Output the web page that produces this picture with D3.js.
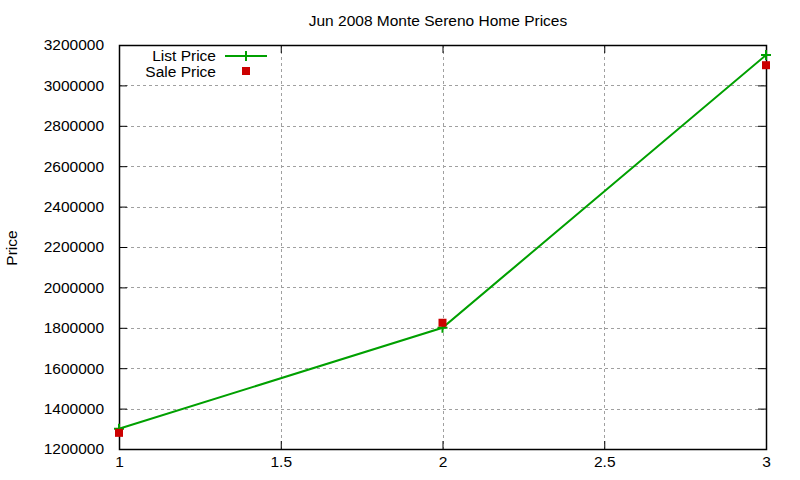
<!DOCTYPE html>
<html>
<head>
<meta charset="utf-8">
<script src="https://cdn.jsdelivr.net/npm/d3@7"></script>
<style>
body { margin: 0; background: #fff; }
text { font-family: "Liberation Sans", Arial, sans-serif; font-size: 15.5px; fill: #000; }
</style>
</head>
<body>
<svg width="800" height="480"></svg>
<script>
var xValues = [1, 2, 3];
var listPrice = [1300000, 1800000, 3150000];
var salePrice = [1280000, 1825000, 3100000];
var xTicks = [1, 1.5, 2, 2.5, 3];
var yTicks = [1200000, 1400000, 1600000, 1800000, 2000000, 2200000, 2400000, 2600000, 2800000, 3000000, 3200000];

var svg = d3.select("svg"),
    pLeft = 119, pRight = 766, pTop = 45, pBottom = 449;

var x = d3.scaleLinear().domain([1, 3]).range([pLeft, pRight]);
var y = d3.scaleLinear().domain([1200000, 3200000]).range([pBottom, pTop]);

// grid
var grid = svg.append("g").attr("stroke", "#a0a0a0").attr("stroke-dasharray", "3,3").attr("stroke-width", 1);
grid.selectAll(".gx").data(xTicks.slice(1, -1)).enter().append("line")
    .attr("x1", function (d) { return Math.round(x(d)) + 0.5; })
    .attr("x2", function (d) { return Math.round(x(d)) + 0.5; })
    .attr("y1", pTop).attr("y2", pBottom);
grid.selectAll(".gy").data(yTicks.slice(1, -1)).enter().append("line")
    .attr("y1", function (d) { return Math.round(y(d)) + 0.5; })
    .attr("y2", function (d) { return Math.round(y(d)) + 0.5; })
    .attr("x1", pLeft).attr("x2", pRight);

// axes
var yAxis = d3.axisLeft(y).tickValues(yTicks).tickSize(-8).tickPadding(15).tickFormat(d3.format("d"));
var yAxisR = d3.axisRight(y).tickValues(yTicks).tickSize(-8).tickFormat("");
var xAxis = d3.axisBottom(x).tickValues(xTicks).tickSize(-8).tickPadding(7).tickFormat(d3.format(""));
var xAxisT = d3.axisTop(x).tickValues(xTicks).tickSize(-8).tickFormat("");

function style(g) {
    g.select(".domain").remove();
    g.selectAll("line").attr("stroke", "#000");
    g.selectAll("text").attr("font-family", "Liberation Sans, Arial, sans-serif").attr("font-size", 15.5).attr("fill", "#000");
}
svg.append("g").attr("transform", "translate(" + pLeft + ",0)").call(yAxis).call(style);
svg.append("g").attr("transform", "translate(" + pRight + ",0)").call(yAxisR).call(style);
svg.append("g").attr("transform", "translate(0," + pBottom + ")").call(xAxis).call(style);
svg.append("g").attr("transform", "translate(0," + pTop + ")").call(xAxisT).call(style);

svg.append("rect").attr("x", pLeft + 0.5).attr("y", pTop + 0.5)
    .attr("width", pRight - pLeft).attr("height", pBottom - pTop)
    .attr("fill", "none").attr("stroke", "#000").attr("stroke-width", 1.5);

// list price line
var line = d3.line().x(function (d, i) { return x(xValues[i]); }).y(function (d) { return y(d); });
svg.append("path").datum(listPrice).attr("d", line)
    .attr("fill", "none").attr("stroke", "#00a000").attr("stroke-width", 2);

function plus(g, cx, cy) {
    g.append("path").attr("d", "M" + (cx - 5) + "," + cy + "H" + (cx + 5) + "M" + cx + "," + (cy - 5) + "V" + (cy + 5))
        .attr("stroke", "#00a000").attr("stroke-width", 2);
}
listPrice.forEach(function (d, i) { plus(svg, x(xValues[i]), y(d)); });

// sale price points
svg.selectAll(".sale").data(salePrice).enter().append("rect")
    .attr("x", function (d, i) { return x(xValues[i]) - 4; })
    .attr("y", function (d) { return y(d) - 4; })
    .attr("width", 8).attr("height", 8).attr("fill", "#cc0000");

// legend
svg.append("text").attr("x", 216).attr("y", 61).attr("text-anchor", "end").text("List Price");
svg.append("path").attr("d", "M225,56H267").attr("stroke", "#00a000").attr("stroke-width", 2);
plus(svg, 246, 56);
svg.append("text").attr("x", 216).attr("y", 77).attr("text-anchor", "end").text("Sale Price");
svg.append("rect").attr("x", 242).attr("y", 67).attr("width", 8).attr("height", 8).attr("fill", "#cc0000");

// title and label
svg.append("text").attr("x", 438).attr("y", 26).attr("text-anchor", "middle").text("Jun 2008 Monte Sereno Home Prices");
svg.append("text").attr("transform", "translate(17,248) rotate(-90)").attr("text-anchor", "middle").text("Price");
</script>
</body>
</html>
